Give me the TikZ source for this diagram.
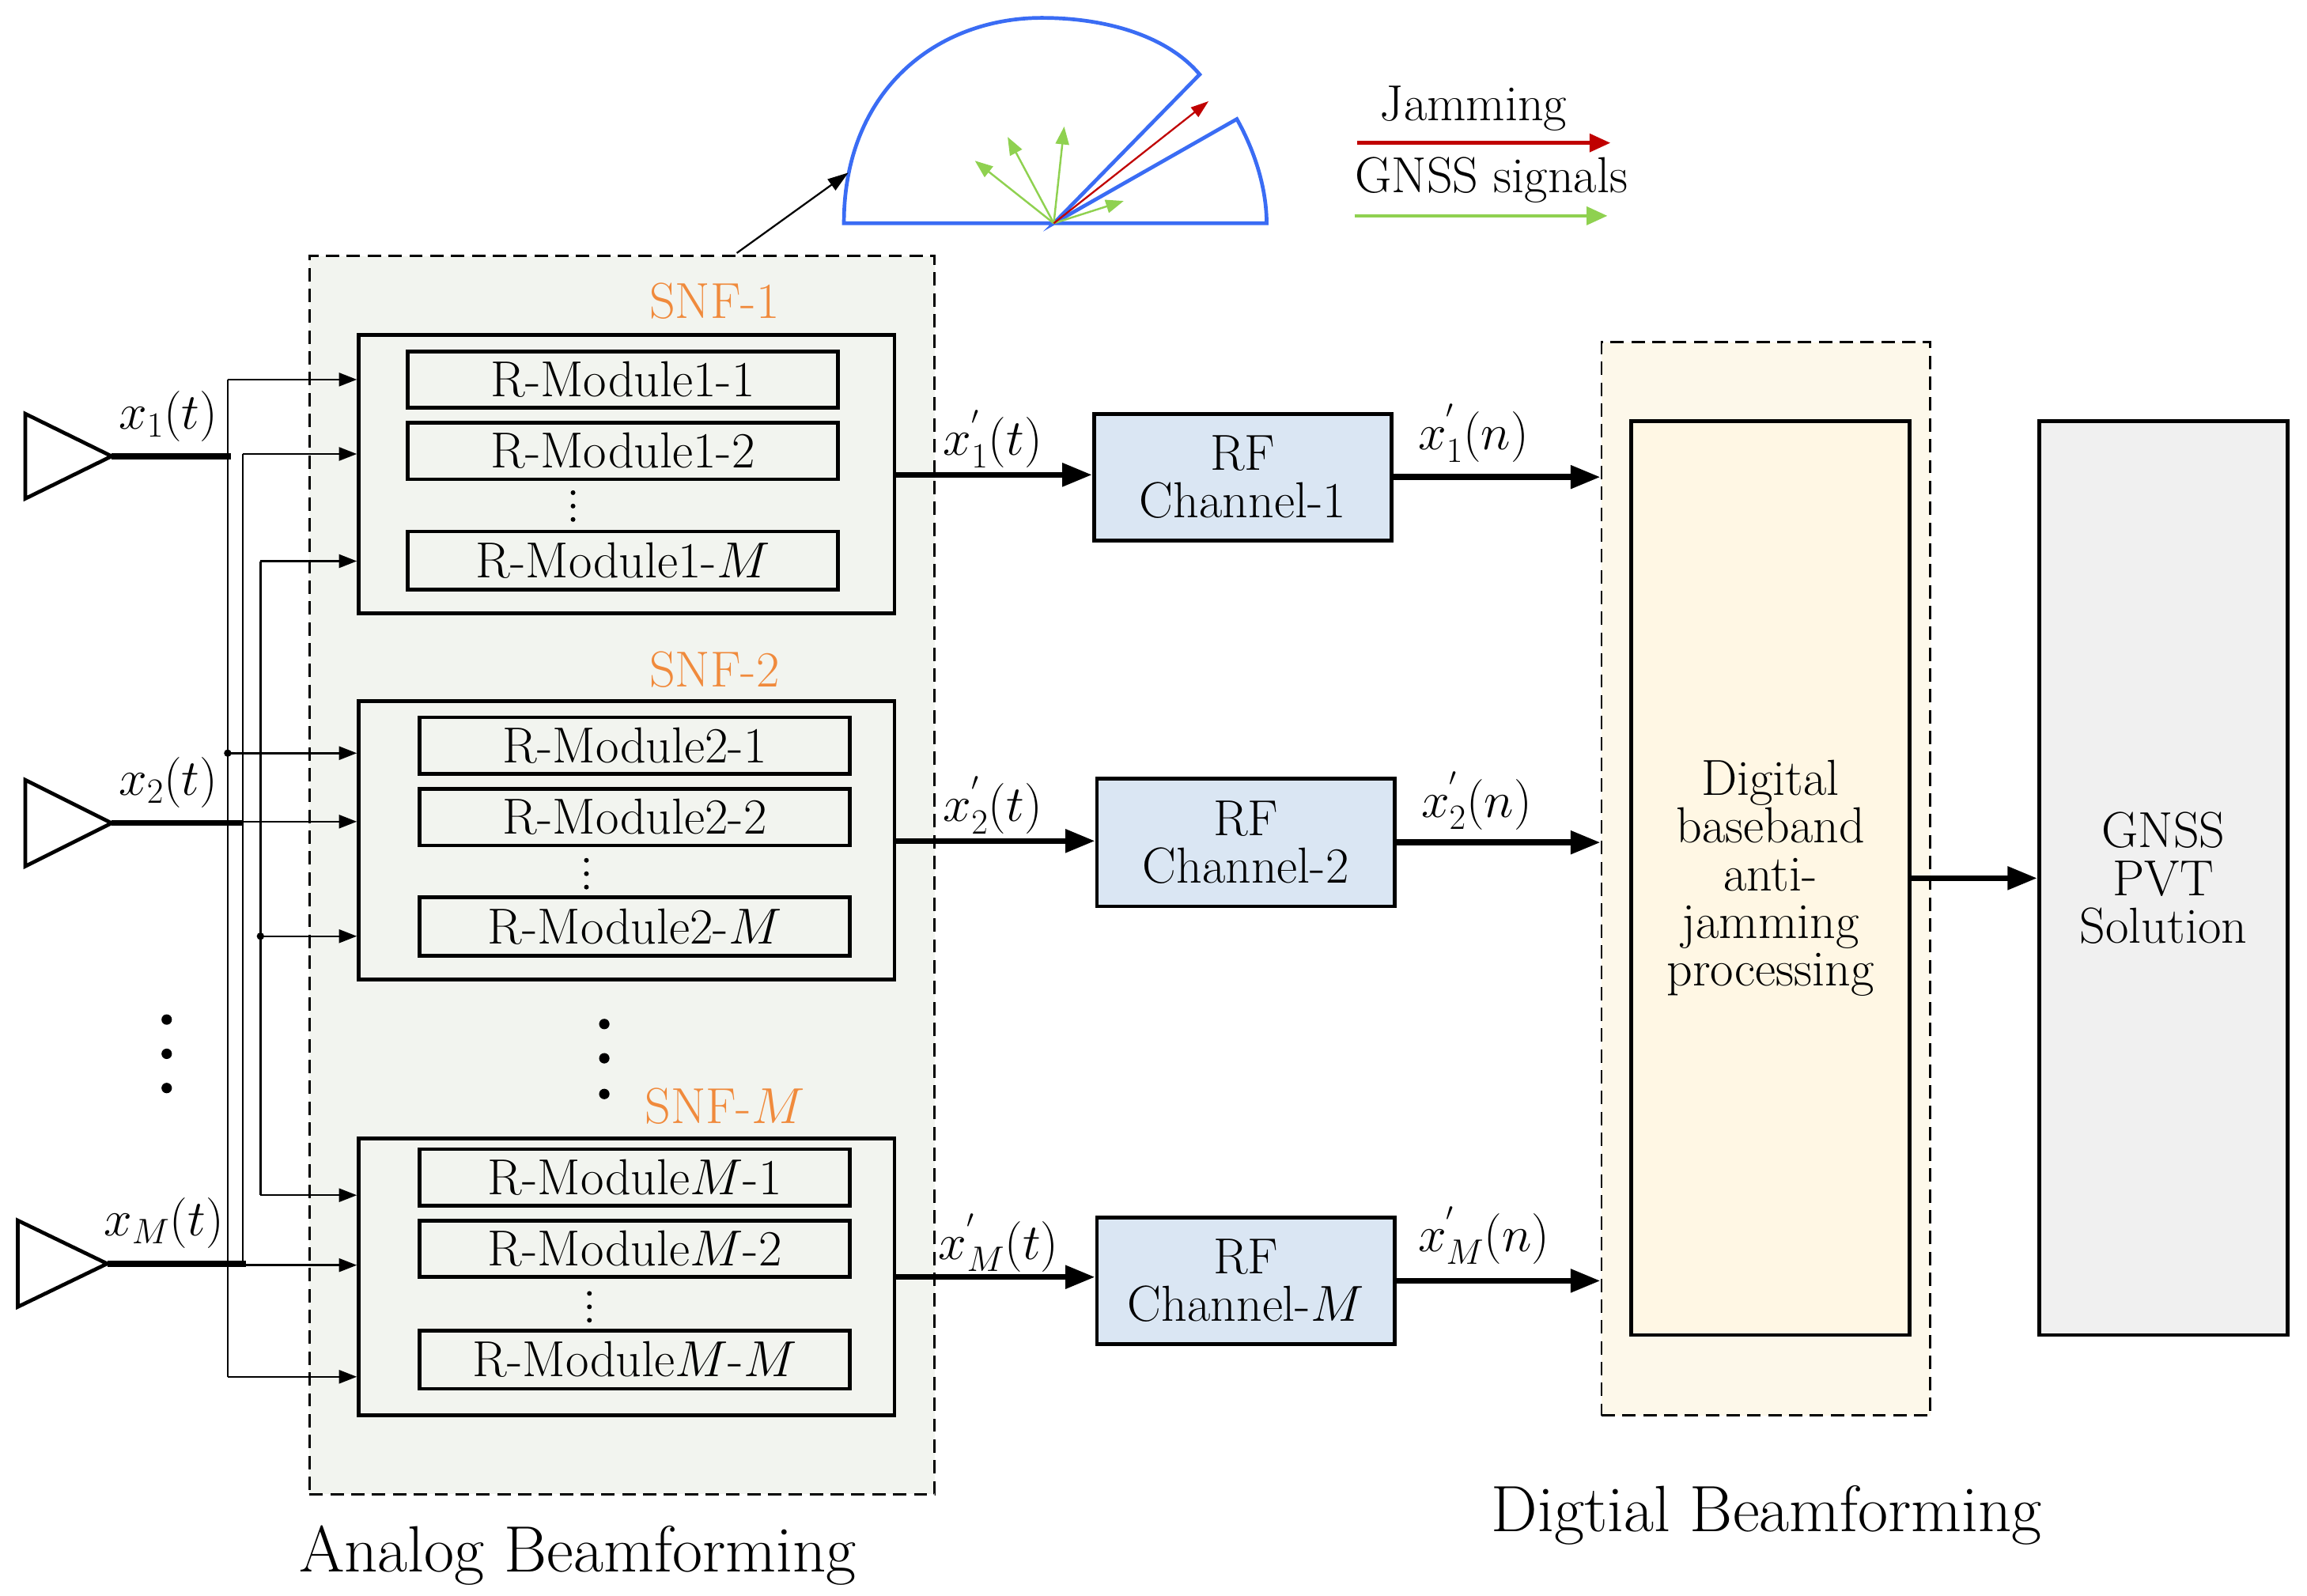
\RequirePackage{fix-cm}
\documentclass[tikz,border=0pt]{standalone}
\usetikzlibrary{arrows.meta}
\definecolor{abf}{HTML}{F2F4EF}
\definecolor{rfc}{HTML}{DAE6F3}
\definecolor{dbf}{HTML}{FDF8EA}
\definecolor{dbi}{HTML}{FFF7E4}
\definecolor{gns}{HTML}{F0F0F0}
\definecolor{snf}{HTML}{F08A3C}
\definecolor{bl}{HTML}{3A6CF4}
\definecolor{gr}{HTML}{8FD150}
\definecolor{rd}{HTML}{C00000}
\begin{document}
\begin{tikzpicture}[x=1pt,y=-1pt,
  txt/.style={font=\fontsize{34}{38}\selectfont},
  mod/.style={draw,line width=2.5pt,fill=abf,inner sep=0pt,txt},
  snfb/.style={draw,line width=2.5pt,fill=abf,inner sep=0pt},
  rf/.style={draw,line width=2.5pt,fill=rfc,txt,align=center,inner sep=0pt},
  lab/.style={text=snf,txt},
  dsh/.style={draw,line width=1.5pt,dash pattern=on 9pt off 5pt},
  feed/.style={line width=1.3pt,-{Triangle[length=12pt,width=9pt]}},
  thk/.style={line width=4pt},
  big/.style={line width=4pt,-{Triangle[length=20pt,width=15pt]}},
  ant/.style={draw,line width=2.5pt}]
\useasboundingbox (0,0) rectangle (1550,1072);
% analog box
\node[dsh,fill=abf,minimum width=420pt,minimum height=832pt,inner sep=0pt] (abox) at (418,588) {};
% digital box
\node[dsh,fill=dbf,minimum width=221pt,minimum height=721pt,inner sep=0pt] (dbox) at (1186.5,590.5) {};
% SNF boxes
\node[snfb,minimum width=360pt,minimum height=187pt] (s1) at (421,318.5) {};
\node[snfb,minimum width=360pt,minimum height=187pt] (s2) at (421,564.5) {};
\node[snfb,minimum width=360pt,minimum height=186pt] (sM) at (421,858) {};
\node[lab] (l1) at (480,202) {SNF-1};
\node[lab] (l2) at (480,450) {SNF-2};
\node[lab] (lM) at (487,743) {SNF-$M$};
% modules
\node[mod,minimum width=289pt,minimum height=38pt] (m11) at (418.5,255) {R-Module1-1};
\node[mod,minimum width=289pt,minimum height=38pt] (m12) at (418.5,303) {R-Module1-2};
\node[mod,minimum width=289pt,minimum height=39pt] (m1M) at (418.5,376.5) {R-Module1-$M$};
\node[mod,minimum width=289pt,minimum height=38pt] (m21) at (426.5,501) {R-Module2-1};
\node[mod,minimum width=289pt,minimum height=38pt] (m22) at (426.5,549) {R-Module2-2};
\node[mod,minimum width=289pt,minimum height=39pt] (m2M) at (426.5,622.5) {R-Module2-$M$};
\node[mod,minimum width=289pt,minimum height=38pt] (mM1) at (426.5,791) {R-Module$M$-1};
\node[mod,minimum width=289pt,minimum height=38pt] (mM2) at (426.5,839) {R-Module$M$-2};
\node[mod,minimum width=289pt,minimum height=39pt] (mMM) at (426.5,913.5) {R-Module$M$-$M$};
\foreach \x/\y in {385/340,394/587,396/878}{
  \foreach \d in {-9,0,9} \fill (\x,\y+\d) circle (1.6pt);}
% dots
\foreach \y in {685,708,731} \fill (112,\y) circle (3.5pt);
\foreach \y in {688,711,735} \fill (406,\y) circle (3.5pt);
% antennas
\draw[ant] (17,278) -- (17,335) -- (75,306.5) -- cycle;
\draw[ant] (17,524) -- (17,582) -- (75,553) -- cycle;
\draw[ant] (12,820) -- (12,878) -- (72,849) -- cycle;
\coordinate (a1) at (75,306.5);
\coordinate (a2) at (75,553);
\coordinate (aM) at (72,849);
\draw[thk] (a1) -- (155,306.5);
\draw[thk] (a2) -- (163,553);
\draw[thk] (aM) -- (165,849);
\node[txt] (x1) at (113,280) {$x_1(t)$};
\node[txt] (x2) at (113,526) {$x_2(t)$};
\node[txt] (xM) at (110,822) {$x_M(t)$};
% feed lines
\draw[line width=1.3pt] (153,255) -- (153,925);
\draw[line width=1.3pt] (163,305) -- (163,850);
\draw[line width=1.3pt] (175,377) -- (175,803);
\draw[feed] (153,255) -- (s1.west |- 0,255);
\draw[feed] (163,305) -- (s1.west |- 0,305);
\draw[feed] (175,377) -- (s1.west |- 0,377);
\draw[feed] (153,506) -- (s2.west |- 0,506);
\draw[feed] (163,552) -- (s2.west |- 0,552);
\draw[feed] (175,629) -- (s2.west |- 0,629);
\draw[feed] (175,803) -- (sM.west |- 0,803);
\draw[feed] (163,850) -- (sM.west |- 0,850);
\draw[feed] (153,925) -- (sM.west |- 0,925);
\fill (153,506) circle (2.5pt) (175,629) circle (2.5pt);
% RF
\node[rf,minimum width=200pt,minimum height=85pt] (r1) at (835,320.5) {RF\\[-6pt]Channel-1};
\node[rf,minimum width=200pt,minimum height=86pt] (r2) at (837,566) {RF\\[-6pt]Channel-2};
\node[rf,minimum width=200pt,minimum height=85pt] (rM) at (837,860.5) {RF\\[-6pt]Channel-$M$};
\draw[big] (s1.east |- 0,319) -- (r1.west |- 0,319);
\draw[big] (s2.east |- 0,565) -- (r2.west |- 0,565);
\draw[big] (sM.east |- 0,858) -- (rM.west |- 0,858);
\node[txt] (y1) at (667,295) {$x_1^{'}(t)$};
\node[txt] (y2) at (667,541) {$x_2^{'}(t)$};
\node[txt] (yM) at (671,835) {$x_M^{'}(t)$};
\draw[big] (r1.east) -- (dbox.west |- r1.east);
\draw[big] (r2.east) -- (dbox.west |- r2.east);
\draw[big] (rM.east) -- (dbox.west |- rM.east);
\node[txt] (n1) at (990,291) {$x_1^{'}(n)$};
\node[txt] (n2) at (992,538) {$x_2^{'}(n)$};
\node[txt] (nM) at (997,830) {$x_M^{'}(n)$};
% digital inner
\node[draw,line width=2.5pt,fill=dbi,minimum width=187pt,minimum height=614pt,inner sep=0pt,txt,align=center] (dp) at (1189.5,590) {Digital\\[-6pt]baseband\\[-6pt]anti-\\[-6pt]jamming\\[-6pt]processing};
\node[draw,line width=2.5pt,fill=gns,minimum width=167pt,minimum height=614pt,inner sep=0pt,txt,align=center] (gn) at (1453.5,590) {GNSS\\[-6pt]PVT\\[-6pt]Solution};
\draw[big] (dp.east) -- (gn.west);
% bottom labels
\node[font=\fontsize{44}{48}\selectfont] (ta) at (388,1045) {Analog Beamforming};
\node[font=\fontsize{44}{48}\selectfont] (td) at (1187,1018) {Digtial Beamforming};
% beam pattern
\coordinate (c) at (708,150);
\draw[bl,line width=2.5pt] (c) -- (567,150) .. controls (567,60) and (630,12) .. (700,12) .. controls (745,12) and (785,25) .. (806,50) -- (c) -- (831,80) .. controls (845,105) and (851,130) .. (851,150) -- (c);
\foreach \p in {(655,108),(677,92),(715,85),(755,135)}
  \draw[gr,line width=1.3pt,-{Triangle[length=12pt,width=9pt]}] (c) -- \p;
\draw[rd,line width=1.2pt,-{Triangle[length=12pt,width=8pt]}] (c) -- (812,68);
\coordinate (bs) at (495,170);
\draw[line width=1.2pt,-{Triangle[length=14pt,width=9pt]}] (bs) -- (570,116);
% legend
\node[txt] (lj) at (990,73) {Jamming};
\node[txt] (lg) at (1002,121) {GNSS signals};
\coordinate (j0) at (912,96); \coordinate (j1) at (1082,96);
\coordinate (g0) at (910,145); \coordinate (g1) at (1080,145);
\draw[rd,line width=2.5pt,-{Triangle[length=14pt,width=12pt]}] (j0) -- (j1);
\draw[gr,line width=2.5pt,-{Triangle[length=14pt,width=12pt]}] (g0) -- (g1);
\end{tikzpicture}
\end{document}
